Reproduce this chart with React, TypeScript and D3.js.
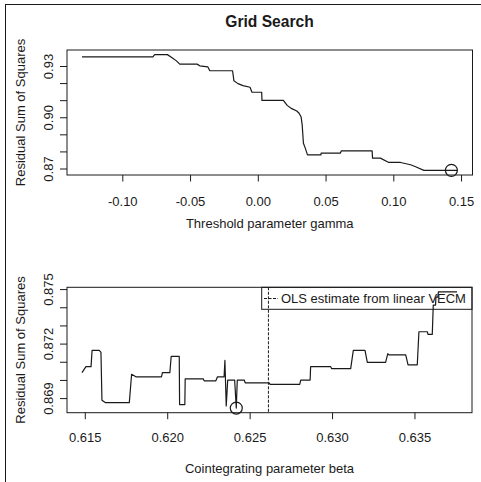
import React from "react";
import * as d3 from "d3";

// ---- Data ----
const gammaValues = [
  -0.1301, -0.0778, -0.0765, -0.0671, -0.0639, -0.0604, -0.058, -0.0452, -0.0432, -0.0373,
  -0.0358, -0.019, -0.018, -0.015, -0.0113, -0.0061, -0.0047, 0.0025, 0.0027, 0.0185,
  0.0213, 0.0247, 0.0284, 0.0301, 0.0316, 0.0324, 0.0333, 0.0346, 0.0363, 0.0462,
  0.0464, 0.0605, 0.0613, 0.084, 0.0843, 0.0901, 0.0963, 0.105, 0.1124, 0.1161,
  0.1222, 0.147,
];
const gammaRss = [
  0.93562, 0.93562, 0.93695, 0.93695, 0.93533, 0.9333, 0.93139, 0.93139, 0.93041, 0.92983,
  0.92751, 0.92751, 0.92172, 0.91998, 0.91882, 0.91784, 0.91494, 0.91494, 0.91014, 0.91014,
  0.90724, 0.90533, 0.90394, 0.90261, 0.90047, 0.89566, 0.88507, 0.88235, 0.87829, 0.87829,
  0.87928, 0.87928, 0.88061, 0.88061, 0.87638, 0.87638, 0.87383, 0.87383, 0.8725, 0.87134,
  0.8692, 0.8692,
];
const gammaBest = [0.1425];
const gammaBestRss = [0.8692];

const betaValues = [
  0.6148, 0.61504, 0.61535, 0.61541, 0.61585, 0.61595, 0.61601, 0.61621, 0.61767, 0.61781,
  0.61807, 0.61962, 0.61968, 0.62013, 0.62021, 0.6207, 0.62072, 0.62104, 0.62106, 0.62215,
  0.62221, 0.62292, 0.62302, 0.62342, 0.62347, 0.62355, 0.62364, 0.62406, 0.62416, 0.62422,
  0.62464, 0.6247, 0.62615, 0.62621, 0.62801, 0.62807, 0.62864, 0.62867, 0.62989, 0.62994,
  0.6311, 0.63126, 0.63197, 0.63211, 0.63322, 0.63335, 0.63342, 0.63444, 0.63458, 0.63514,
  0.63524, 0.63575, 0.63579, 0.63605, 0.63611, 0.63625, 0.63627, 0.63639, 0.63642, 0.63755,
];
const betaRss = [
  0.87043, 0.87076, 0.87076, 0.87165, 0.87165, 0.87154, 0.86891, 0.86878, 0.86878, 0.87034,
  0.8702, 0.8702, 0.87043, 0.87043, 0.87132, 0.87132, 0.86867, 0.86867, 0.87009, 0.87009,
  0.86998, 0.86998, 0.8702, 0.8702, 0.8711, 0.8686, 0.87002, 0.87002, 0.86848, 0.87002,
  0.87002, 0.86987, 0.86987, 0.86978, 0.86978, 0.87002, 0.87002, 0.87076, 0.87076, 0.87065,
  0.87065, 0.87165, 0.87165, 0.87099, 0.87099, 0.87147, 0.87141, 0.87141, 0.87086, 0.87086,
  0.87268, 0.87268, 0.87253, 0.87253, 0.87415, 0.87415, 0.87459, 0.87459, 0.87487, 0.87487,
];
const betaBest = [0.62416];
const betaBestRss = [0.86848];
const betaOLS = [0.62611];

const gammaXTicks = [-0.1, -0.05, 0, 0.05, 0.1, 0.15];
const gammaYTicks = [0.87, 0.88, 0.89, 0.9, 0.91, 0.92, 0.93];
const gammaYLabels = [0.87, 0.9, 0.93];
const betaXTicks = [0.615, 0.62, 0.625, 0.63, 0.635];
const betaYTicks = [0.869, 0.87, 0.871, 0.872, 0.873, 0.874, 0.875];
const betaYLabels = [0.869, 0.872, 0.875];

const mainTitle = "Grid Search";
const yTitle = "Residual Sum of Squares";
const gammaXTitle = "Threshold parameter gamma";
const betaXTitle = "Cointegrating parameter beta";
const legendText = "OLS estimate from linear VECM";

const FONT = "'Liberation Sans', Arial, Helvetica, sans-serif";
const INK = "#1a1a1a";

function padDomain(vals: number[]): [number, number] {
  const [a, b] = d3.extent(vals) as [number, number];
  const p = (b - a) * 0.04;
  return [a - p, b + p];
}

type PanelProps = {
  xs: number[];
  ys: number[];
  bx: number[];
  by: number[];
  left: number;
  right: number;
  top: number;
  bottom: number;
  xTicks: number[];
  xFmt: (v: number) => string;
  yTicks: number[];
  yLabels: number[];
  yFmt: (v: number) => string;
  xTitle: string;
  tickLabOff: number;
  xTitleOff: number;
  vline?: number[];
  legend?: string;
};

function Panel(p: PanelProps) {
  const x = d3.scaleLinear().domain(padDomain(p.xs)).range([p.left, p.right]);
  const y = d3.scaleLinear().domain(padDomain(p.ys)).range([p.bottom, p.top]);
  const pts = p.xs.map((v, i) => [v, p.ys[i]] as [number, number]);
  const line = d3
    .line<[number, number]>()
    .x((d) => x(d[0]))
    .y((d) => y(d[1]));
  const cx = (p.left + p.right) / 2;
  const cy = (p.top + p.bottom) / 2;
  return (
    <g>
      <rect
        x={p.left}
        y={p.top}
        width={p.right - p.left}
        height={p.bottom - p.top}
        fill="none"
        stroke={INK}
        strokeWidth={1}
      />
      {p.xTicks.map((t) => (
        <g key={"xt" + t}>
          <line x1={x(t)} x2={x(t)} y1={p.bottom} y2={p.bottom + 6.5} stroke={INK} />
          <text
            x={x(t)}
            y={p.bottom + p.tickLabOff}
            textAnchor="middle"
            dominantBaseline="central"
            fontSize={13}
            fill={INK}
            fontFamily={FONT}
          >
            {p.xFmt(t)}
          </text>
        </g>
      ))}
      {p.yTicks.map((t) => (
        <line key={"yt" + t} x1={p.left - 7} x2={p.left} y1={y(t)} y2={y(t)} stroke={INK} />
      ))}
      {p.yLabels.map((t) => (
        <text
          key={"yl" + t}
          transform={`translate(48.3,${y(t)}) rotate(-90)`}
          textAnchor="middle"
          dominantBaseline="central"
          fontSize={13}
          fill={INK}
          fontFamily={FONT}
        >
          {p.yFmt(t)}
        </text>
      ))}
      <text
        x={cx}
        y={p.bottom + p.xTitleOff}
        textAnchor="middle"
        dominantBaseline="central"
        fontSize={13}
        fill={INK}
        fontFamily={FONT}
      >
        {p.xTitle}
      </text>
      <text
        transform={`translate(20,${cy}) rotate(-90)`}
        textAnchor="middle"
        dominantBaseline="central"
        fontSize={13}
        fill={INK}
        fontFamily={FONT}
      >
        {yTitle}
      </text>
      {p.vline &&
        p.vline.map((v) => (
          <line
            key={"vl" + v}
            x1={x(v)}
            x2={x(v)}
            y1={p.top}
            y2={p.bottom}
            stroke={INK}
            strokeWidth={1}
            strokeDasharray="3,1.5"
          />
        ))}
      {p.legend && (
        <g>
          <rect
            x={261.7}
            y={p.top}
            width={p.right - 261.7}
            height={22}
            fill="none"
            stroke={INK}
            strokeWidth={1}
          />
          <line
            x1={264}
            x2={278}
            y1={p.top + 11.2}
            y2={p.top + 11.2}
            stroke={INK}
            strokeDasharray="3,1.5"
          />
          <text
            x={281}
            y={p.top + 11.5}
            dominantBaseline="central"
            fontSize={13}
            fill={INK}
            fontFamily={FONT}
          >
            {p.legend}
          </text>
        </g>
      )}
      <path d={line(pts) || ""} fill="none" stroke={INK} strokeWidth={1.2} strokeLinejoin="round" />
      {p.bx.map((v, i) => (
        <circle
          key={"b" + i}
          cx={x(v)}
          cy={y(p.by[i])}
          r={6}
          fill="none"
          stroke={INK}
          strokeWidth={1.2}
        />
      ))}
    </g>
  );
}

export default function App() {
  const f2 = (v: number) => d3.format(".2f")(v).replace("\u2212", "-");
  const f3 = (v: number) => d3.format(".3f")(v).replace("\u2212", "-");
  return (
    <svg
      width={481}
      height={482}
      style={{ position: "absolute", left: 0, top: 0, background: "#fff" }}
    >
      <rect x={0} y={0} width={481} height={482} fill="#fff" />
      <line x1={5.5} x2={5.5} y1={4} y2={482} stroke={INK} strokeWidth={1} />
      <line x1={5} x2={481} y1={4.5} y2={4.5} stroke={INK} strokeWidth={1} />
      <text
        x={269.5}
        y={21}
        textAnchor="middle"
        dominantBaseline="central"
        fontSize={15.6}
        fontWeight="bold"
        fill={INK}
        fontFamily={FONT}
      >
        {mainTitle}
      </text>
      <Panel
        xs={gammaValues}
        ys={gammaRss}
        bx={gammaBest}
        by={gammaBestRss}
        left={67}
        right={472.5}
        top={50}
        bottom={175}
        xTicks={gammaXTicks}
        xFmt={f2}
        yTicks={gammaYTicks}
        yLabels={gammaYLabels}
        yFmt={f2}
        xTitle={gammaXTitle}
        tickLabOff={26.7}
        xTitleOff={48.3}
      />
      <Panel
        xs={betaValues}
        ys={betaRss}
        bx={betaBest}
        by={betaBestRss}
        left={67}
        right={472}
        top={287.3}
        bottom={412.7}
        xTicks={betaXTicks}
        xFmt={f3}
        yTicks={betaYTicks}
        yLabels={betaYLabels}
        yFmt={f3}
        xTitle={betaXTitle}
        tickLabOff={25}
        xTitleOff={55.6}
        vline={betaOLS}
        legend={legendText}
      />
    </svg>
  );
}
